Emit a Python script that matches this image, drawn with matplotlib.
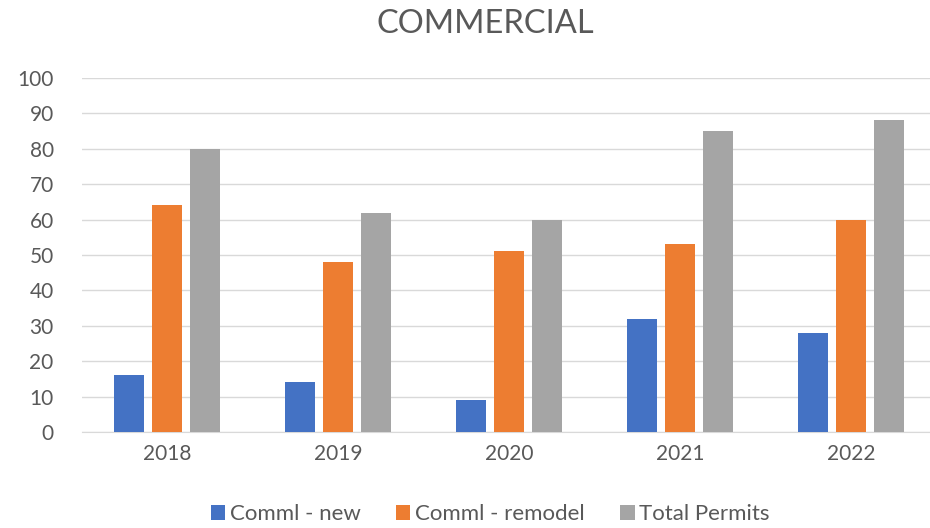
import numpy as np
import matplotlib
matplotlib.use("Agg")
import matplotlib.pyplot as plt

years = ["2018", "2019", "2020", "2021", "2022"]
comml_new = [16, 14, 9, 32, 28]
comml_remodel = [64, 48, 51, 53, 60]
total_permits = [80, 62, 60, 85, 88]

series = [("Comml - new", comml_new, "#4472C4"),
          ("Comml - remodel", comml_remodel, "#ED7D31"),
          ("Total Permits", total_permits, "#A5A5A5")]

plt.rcParams['font.family'] = ['Lato', 'DejaVu Sans']
txt = "#595959"

fig = plt.figure(figsize=(9.3, 5.28), dpi=100)
ax = fig.add_axes([81.5 / 930, 1 - 432 / 528, 855 / 930, 354 / 528])

x = np.arange(len(years))
w = 30 / 171
step = 38 / 171
for i, (name, vals, col) in enumerate(series):
    ax.bar(x + (i - 1) * step, vals, width=w, color=col, label=name, zorder=3)

ax.set_xlim(-0.5, len(years) - 0.5)
ax.set_ylim(0, 100)
ax.set_yticks(range(0, 101, 10))
ax.set_xticks(x)
ax.set_xticklabels(years)
ax.grid(axis="y", color="#D9D9D9", linewidth=1, zorder=0)
for s in ["top", "right", "left"]:
    ax.spines[s].set_visible(False)
ax.spines["bottom"].set_color("#D9D9D9")
ax.tick_params(axis="both", length=0, labelsize=15, colors=txt, pad=9)
ax.tick_params(axis="y", pad=20)

fig.text(0.522, 1 - 24 / 528, "COMMERCIAL", ha="center", va="center", fontsize=23.5, color=txt)
fig.legend(loc="center", bbox_to_anchor=(0.527, 1 - 514 / 528), ncol=3, frameon=False,
           fontsize=16, labelcolor=txt, handlelength=0.65, handleheight=0.65,
           handletextpad=0.2, columnspacing=1.6)

fig.savefig("out.png", dpi=100)
